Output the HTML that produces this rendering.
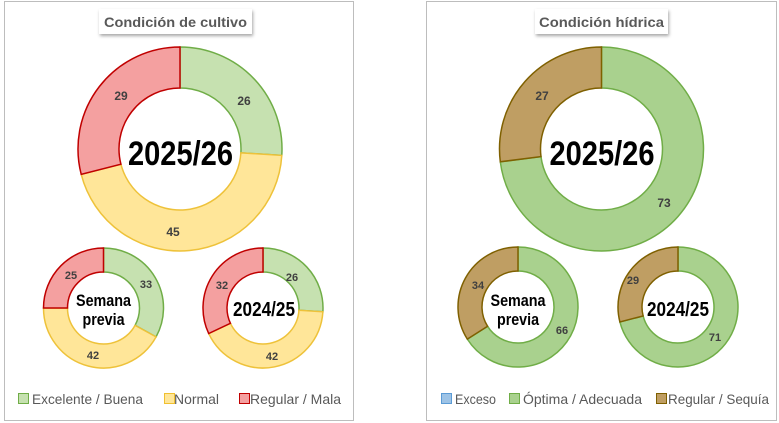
<!DOCTYPE html>
<html><head><meta charset="utf-8"><style>
body{margin:0;background:#fff;width:779px;height:423px;overflow:hidden}
svg{display:block}
text{font-family:"Liberation Sans",sans-serif}
.v{font-weight:bold;fill:#404040;font-size:12px;text-anchor:middle}
.vs{font-weight:bold;fill:#404040;font-size:11px;text-anchor:middle}
.c{font-family:"Liberation Sans",sans-serif;font-weight:bold;fill:#000;text-anchor:middle}
.t{font-weight:bold;fill:#595959;font-size:14px;text-anchor:middle}
.l{fill:#595959;font-size:14px}
</style></head><body>
<svg id="s" width="779" height="423" viewBox="0 0 779 423">
<defs><filter id="sh" x="-10%" y="-20%" width="130%" height="160%"><feDropShadow dx="1" dy="2" stdDeviation="1.5" flood-color="#000" flood-opacity="0.35"/></filter></defs>
<rect x="4.5" y="1.5" width="349" height="419" fill="#fff" stroke="#bdbdbd"/>
<rect x="426.5" y="1.5" width="350" height="419" fill="#fff" stroke="#bdbdbd"/>
<rect x="99" y="9" width="153" height="25" fill="#fff" filter="url(#sh)"/>
<text class="t" x="175.5" y="27" textLength="143" lengthAdjust="spacingAndGlyphs">Condición de cultivo</text>
<rect x="535" y="9" width="133" height="25" fill="#fff" filter="url(#sh)"/>
<text class="t" x="601.5" y="27" textLength="125" lengthAdjust="spacingAndGlyphs">Condición hídrica</text>
<g id="arcs"></g>
<text class="v" x="121" y="100">29</text><text class="v" x="244" y="105">26</text><text class="v" x="173" y="236">45</text>
<text class="c" x="180.5" y="165" font-size="34" textLength="105" lengthAdjust="spacingAndGlyphs">2025/26</text>
<text class="vs" x="71" y="279">25</text><text class="vs" x="146" y="288">33</text><text class="vs" x="93" y="359">42</text>
<text class="c" x="103.5" y="306" font-size="17" textLength="55" lengthAdjust="spacingAndGlyphs">Semana</text><text class="c" x="103.5" y="325" font-size="17" textLength="42" lengthAdjust="spacingAndGlyphs">previa</text>
<text class="vs" x="222" y="289">32</text><text class="vs" x="292" y="281">26</text><text class="vs" x="272" y="360">42</text>
<text class="c" x="264" y="316" font-size="20" textLength="62" lengthAdjust="spacingAndGlyphs">2024/25</text>
<text class="v" x="542" y="100">27</text><text class="v" x="664" y="207">73</text>
<text class="c" x="602" y="165" font-size="34" textLength="105" lengthAdjust="spacingAndGlyphs">2025/26</text>
<text class="vs" x="478" y="289">34</text><text class="vs" x="562" y="334">66</text>
<text class="c" x="518" y="306" font-size="17" textLength="55" lengthAdjust="spacingAndGlyphs">Semana</text><text class="c" x="518" y="325" font-size="17" textLength="42" lengthAdjust="spacingAndGlyphs">previa</text>
<text class="vs" x="633" y="284">29</text><text class="vs" x="715" y="341">71</text>
<text class="c" x="678" y="316" font-size="20" textLength="62" lengthAdjust="spacingAndGlyphs">2024/25</text>
<rect x="18.5" y="393.5" width="10" height="10" fill="#c6e1b0" stroke="#70ad47"/><text class="l" x="32" y="404" textLength="111" lengthAdjust="spacingAndGlyphs">Excelente / Buena</text>
<rect x="164.5" y="393.5" width="10" height="10" fill="#ffe699" stroke="#f0c030"/><text class="l" x="174" y="404" textLength="45" lengthAdjust="spacingAndGlyphs">Normal</text>
<rect x="239.5" y="393.5" width="10" height="10" fill="#f4a0a0" stroke="#c00000"/><text class="l" x="250" y="404" textLength="91" lengthAdjust="spacingAndGlyphs">Regular / Mala</text>
<rect x="441.5" y="393.5" width="10" height="10" fill="#9dc3e6" stroke="#5b9bd5"/><text class="l" x="455" y="404" textLength="41" lengthAdjust="spacingAndGlyphs">Exceso</text>
<rect x="509.5" y="393.5" width="10" height="10" fill="#a9d18e" stroke="#70ad47"/><text class="l" x="523" y="404" textLength="119" lengthAdjust="spacingAndGlyphs">Óptima / Adecuada</text>
<rect x="656.5" y="393.5" width="10" height="10" fill="#bf9e63" stroke="#7f6000"/><text class="l" x="668" y="404" textLength="101" lengthAdjust="spacingAndGlyphs">Regular / Sequía</text>
</svg>
<script>
var G=["#c6e1b0","#70ad47"],Y=["#ffe699","#eec23a"],R=["#f4a0a0","#c00000"],H=["#a9d18e","#70ad47"],B=["#bf9e63","#7f6000"];
var donuts=[
[180,149,102,61,[[26,G],[45,Y],[29,R]]],
[103.5,308,60,36,[[33,G],[42,Y],[25,R]]],
[263,308,60,36,[[26,G],[42,Y],[32,R]]],
[601.5,149,102,61,[[73,H],[27,B]]],
[518,307,60,36,[[66,H],[34,B]]],
[678,307,60,36,[[71,H],[29,B]]]];
var g=document.getElementById("arcs"),h="";
function p(cx,cy,r,a){return [cx+r*Math.sin(a),cy-r*Math.cos(a)];}
donuts.forEach(function(d){var cx=d[0],cy=d[1],R1=d[2],r=d[3],tot=0,a=0;
d[4].forEach(function(s){tot+=s[0]});
d[4].forEach(function(s){var b=a+s[0]/tot*2*Math.PI,l=(b-a)>Math.PI?1:0;
var o1=p(cx,cy,R1,a),o2=p(cx,cy,R1,b),i2=p(cx,cy,r,b),i1=p(cx,cy,r,a);
h+='<path d="M'+o1+' A'+R1+' '+R1+' 0 '+l+' 1 '+o2+' L'+i2+' A'+r+' '+r+' 0 '+l+' 0 '+i1+' Z" fill="'+s[1][0]+'" stroke="'+s[1][1]+'" stroke-width="1.5"/>';a=b;});});
g.innerHTML=h;
</script>
</body></html>
